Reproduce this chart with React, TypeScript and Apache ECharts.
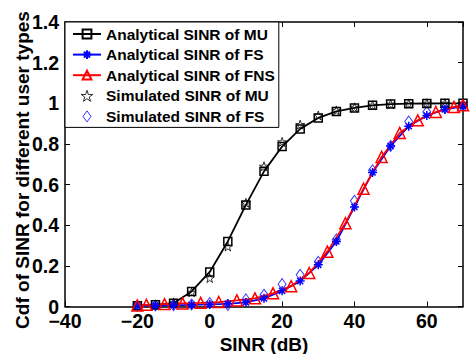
import React, { useEffect, useRef } from "react";
import * as echarts from "echarts";

const xAnalytical = [-20, -15, -10, -5, 0, 5, 10, 15, 20, 25, 30, 35, 40, 45, 50, 55, 60, 65, 70];
const muAnalytical = [0.004, 0.008, 0.016, 0.074, 0.17, 0.32, 0.5, 0.665, 0.787, 0.874, 0.928, 0.96, 0.977, 0.99, 0.996, 0.998, 0.999, 1.0, 1.0];
const fsAnalytical = [0.004, 0.005, 0.006, 0.008, 0.01, 0.013, 0.02, 0.04, 0.077, 0.125, 0.205, 0.32, 0.49, 0.66, 0.79, 0.887, 0.94, 0.97, 0.985];
const xFns = [-20, -17.5, -12.5, -7.5, -2.5, 2.5, 7.5, 12.5, 17.5, 22.5, 27.5, 32.5, 37.5, 42.5, 47.5, 52.5, 57.5, 62.5, 67.5, 70];
const fnsAnalytical = [0.005, 0.008, 0.012, 0.015, 0.018, 0.022, 0.03, 0.04, 0.065, 0.1, 0.165, 0.27, 0.41, 0.58, 0.736, 0.854, 0.916, 0.957, 0.982, 0.99];
const muSimulated = [0.004, 0.006, 0.02, 0.07, 0.14, 0.295, 0.51, 0.69, 0.81, 0.895, 0.94, 0.965, 0.98, 0.99, 0.996, 0.998, 1.0, 1.0, 1.0];
const fsSimulated = [0.004, 0.005, 0.006, 0.01, 0.017, 0.008, 0.035, 0.058, 0.11, 0.156, 0.22, 0.33, 0.52, 0.67, 0.79, 0.91, 0.957, 0.977, 0.99];

const legendNames = [
  "Analytical SINR of MU",
  "Analytical SINR of FS",
  "Analytical SINR of FNS",
  "Simulated SINR of MU",
  "Simulated SINR of FS",
];
const xTitle = "SINR (dB)";
const yTitle = "Cdf of SINR for different user types";

const FONT = "'Liberation Sans', Arial, Helvetica, sans-serif";
const ASTERISK = "path://M5,0L5,10M0,5L10,5M1.6,1.6L8.4,8.4M1.6,8.4L8.4,1.6";
const STAR =
  "path://M50,0L61.8,36.2L100,36.2L69.1,58.6L80.9,95.1L50,72.6L19.1,95.1L30.9,58.6L0,36.2L38.2,36.2Z";
const DIAMOND = "path://M4,0L8,5.5L4,11L0,5.5Z";

const zip = (xs: number[], ys: number[]) => xs.map((x, i) => [x, ys[i]]);

export default function App() {
  const ref = useRef<HTMLDivElement>(null);
  useEffect(() => {
    if (!ref.current) return;
    const chart = echarts.init(ref.current, undefined, { renderer: "svg" });
    const axisCommon = {
      axisLine: { show: true, onZero: false, lineStyle: { color: "#000", width: 1.5 } },
      axisTick: { show: true, inside: true, length: 5, lineStyle: { color: "#000", width: 1 } },
      splitLine: { show: false },
    };
    const labelStyle = { color: "#000", fontFamily: FONT, fontWeight: "bold" as const, fontSize: 19.5 };
    chart.setOption({
      animation: false,
      backgroundColor: "#fff",
      grid: { left: 65, right: 8, top: 22, bottom: 47.5, outerBoundsMode: "none", containLabel: false },
      xAxis: [
        {
          type: "value",
          min: -40,
          max: 70,
          interval: 20,
          ...axisCommon,
          axisLabel: {
            ...labelStyle,
            margin: 4,
            showMaxLabel: false,
            formatter: (v: number) => String(v).replace("-", "\u2212"),
          },
          name: xTitle,
          nameLocation: "middle",
          nameGap: 14,
          nameTextStyle: { ...labelStyle, fontSize: 19 },
        },
        {
          type: "value",
          position: "top",
          min: -40,
          max: 70,
          interval: 20,
          ...axisCommon,
          axisLabel: { show: false },
        },
      ],
      yAxis: [
        {
          type: "value",
          min: 0,
          max: 1.4,
          interval: 0.2,
          ...axisCommon,
          axisLabel: { ...labelStyle, margin: 6 },
        },
        {
          type: "value",
          position: "right",
          min: 0,
          max: 1.4,
          interval: 0.2,
          ...axisCommon,
          axisLabel: { show: false },
        },
      ],
      graphic: [
        {
          type: "text",
          x: 22,
          y: 170,
          rotation: Math.PI / 2,
          style: {
            text: yTitle,
            fill: "#000",
            font: `bold 19px ${FONT}`,
            textAlign: "center",
            textVerticalAlign: "middle",
          },
        },
      ],
      legend: {
        orient: "vertical",
        left: 65,
        top: 22,
        padding: [3, 4, 2, 7],
        itemGap: 2.6,
        itemWidth: 28,
        itemHeight: 11,
        backgroundColor: "#fff",
        borderColor: "#000",
        borderWidth: 1,
        textStyle: { color: "#000", fontFamily: FONT, fontWeight: "bold", fontSize: 15.5, lineHeight: 18 },
        data: [
          { name: legendNames[0] },
          { name: legendNames[1] },
          { name: legendNames[2] },
          {
            name: legendNames[3],
            icon: STAR,
            itemStyle: { color: "transparent", borderColor: "#000", borderWidth: 1 },
          },
          {
            name: legendNames[4],
            icon: DIAMOND,
            itemStyle: { color: "transparent", borderColor: "#0000ff", borderWidth: 1 },
          },
        ],
        z: 10,
      },
      series: [
        {
          name: legendNames[0],
          type: "line",
          data: zip(xAnalytical, muAnalytical),
          symbol: "rect",
          symbolSize: 8,
          lineStyle: { color: "#000", width: 1.8 },
          itemStyle: { color: "transparent", borderColor: "#000", borderWidth: 1.5 },
        },
        {
          name: legendNames[1],
          type: "line",
          data: zip(xAnalytical, fsAnalytical),
          symbol: ASTERISK,
          symbolSize: 9,
          lineStyle: { color: "#0000ff", width: 1.8 },
          itemStyle: { color: "none", borderColor: "#0000ff", borderWidth: 1.5 },
        },
        {
          name: legendNames[2],
          type: "line",
          data: zip(xFns, fnsAnalytical),
          symbol: "triangle",
          symbolSize: 11,
          lineStyle: { color: "#ff0000", width: 1.8 },
          itemStyle: { color: "transparent", borderColor: "#ff0000", borderWidth: 1.5 },
        },
        {
          name: legendNames[3],
          type: "scatter",
          data: zip(xAnalytical, muSimulated),
          symbol: STAR,
          symbolSize: 9,
          itemStyle: { color: "transparent", borderColor: "#000", borderWidth: 1 },
        },
        {
          name: legendNames[4],
          type: "scatter",
          data: zip(xAnalytical, fsSimulated),
          symbol: DIAMOND,
          symbolSize: [8, 11],
          itemStyle: { color: "transparent", borderColor: "#0000ff", borderWidth: 1 },
        },
      ],
    });
    return () => chart.dispose();
  }, []);
  return <div ref={ref} style={{ position: "fixed", left: 0, top: 0, width: 471, height: 354 }} />;
}
